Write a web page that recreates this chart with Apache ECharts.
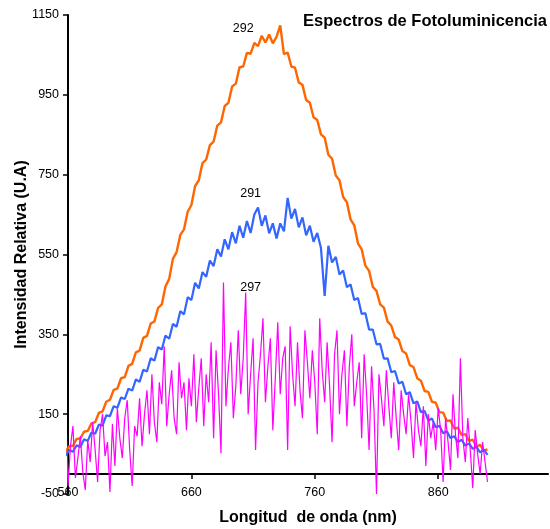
<!DOCTYPE html>
<html>
<head>
<meta charset="utf-8">
<script src="https://cdn.jsdelivr.net/npm/echarts@6/dist/echarts.min.js"></script>
<style>
  html, body { margin: 0; padding: 0; background: #fff; }
  #chart { width: 550px; height: 529px; }
</style>
</head>
<body>
<div id="chart"></div>
<script>
// longitud de onda (nm), paso 3 nm para 292 y 291
var longitud = [558,561,564,567,570,573,576,579,582,585,588,591,594,597,600,603,606,609,612,615,
  618,621,624,627,630,633,636,639,642,645,648,651,654,657,660,663,666,669,672,675,
  678,681,684,687,690,693,696,699,702,705,708,711,714,717,720,723,726,729,732,735,
  738,741,744,747,750,753,756,759,762,765,768,771,774,777,780,783,786,789,792,795,
  798,801,804,807,810,813,816,819,822,825,828,831,834,837,840,843,846,849,852,855,
  858,861,864,867,870,873,876,879,882,885,888,891,894,897,900];

// longitud de onda (nm), paso 2 nm para 297
var longitud2 = [558,560,562,564,566,568,570,572,574,576,578,580,582,584,586,588,590,592,594,596,
  598,600,602,604,606,608,610,612,614,616,618,620,622,624,626,628,630,632,634,636,
  638,640,642,644,646,648,650,652,654,656,658,660,662,664,666,668,670,672,674,676,
  678,680,682,684,686,688,690,692,694,696,698,700,702,704,706,708,710,712,714,716,
  718,720,722,724,726,728,730,732,734,736,738,740,742,744,746,748,750,752,754,756,
  758,760,762,764,766,768,770,772,774,776,778,780,782,784,786,788,790,792,794,796,
  798,800,802,804,806,808,810,812,814,816,818,820,822,824,826,828,830,832,834,836,
  838,840,842,844,846,848,850,852,854,856,858,860,862,864,866,868,870,872,874,876,
  878,880,882,884,886,888,890,892,894,896,898,900];

// muestra 292
var m292 = [55,70,71,88,89,106,108,127,130,153,
  157,181,186,211,214,240,243,271,276,305,
  309,341,346,377,382,416,425,470,489,539,
  556,599,613,657,674,721,736,779,788,824,
  833,873,881,922,930,971,978,1019,1021,1055,
  1053,1080,1072,1098,1081,1101,1079,1095,1124,1052,
  1056,1021,1018,981,975,937,930,894,887,851,
  843,800,790,748,736,694,681,638,623,578,
  563,522,509,469,459,425,417,382,372,343,
  337,308,302,273,268,240,234,208,206,181,
  179,155,154,133,134,114,116,98,100,83,
  86,69,73,59,62];

// muestra 291
var m291 = [46,60,56,72,68,87,83,104,101,124,
  121,147,145,170,166,192,188,214,209,237,
  231,261,257,290,284,318,312,347,339,376,
  369,408,400,443,436,479,465,506,494,535,
  521,563,545,588,563,606,578,622,592,634,
  604,650,668,622,648,603,628,590,628,608,
  692,640,664,618,643,598,622,582,604,566,
  446,572,530,544,500,510,468,475,436,441,
  401,403,362,362,325,326,289,290,255,258,
  227,231,200,205,177,182,155,158,134,139,
  117,121,102,107,90,95,80,86,71,77,
  63,68,54,61,48];

// muestra 297
var m297 = [180,-30,70,120,-10,40,95,5,-40,85,
  30,130,60,-20,110,150,45,80,-45,125,
  20,165,90,40,140,185,60,-30,120,95,
  190,70,150,210,100,250,130,80,230,175,
  320,120,200,260,140,100,280,190,230,110,
  240,170,300,130,215,290,120,250,180,330,
  90,310,200,52,480,170,265,330,140,220,
  360,200,290,455,150,250,340,60,230,300,
  390,180,270,340,110,240,380,200,290,320,
  60,370,250,170,330,210,140,360,280,190,
  310,230,100,390,260,180,330,220,80,300,
  360,150,250,310,120,270,350,170,230,280,
  90,300,200,60,270,160,-50,250,190,120,
  260,170,90,230,140,60,210,150,100,200,
  130,40,180,110,70,170,20,150,90,130,
  60,165,110,-20,140,80,10,200,100,40,
  290,90,30,140,60,-35,110,50,0,80,
  30,-20];

var xTicks = [560, 660, 760, 860];

// etiquetas de cada curva [nombre, x, y]
var etiquetas = [['292', 702, 1115], ['291', 708, 702], ['297', 708, 467]];

function pares(xs, vals) {
    var out = [];
    for (var i = 0; i < xs.length; i++) {
        out.push([xs[i], vals[i]]);
    }
    return out;
}

function marca(idx) {
    return {
        symbol: 'circle',
        symbolSize: 0,
        silent: true,
        label: {
            show: true,
            position: 'inside',
            color: '#000',
            fontSize: 12.5,
            fontFamily: 'Liberation Sans',
            formatter: etiquetas[idx][0]
        },
        data: [{ coord: [etiquetas[idx][1], etiquetas[idx][2]] }]
    };
}

var myChart = echarts.init(document.getElementById('chart'));
var option = {
    animation: false,
    backgroundColor: '#fff',
    textStyle: { fontFamily: 'Liberation Sans' },
    title: {
        text: 'Espectros de Fotoluminicencia',
        right: 3,
        top: 13,
        padding: 0,
        textStyle: { fontSize: 16.5, fontWeight: 'bold', color: '#000', fontFamily: 'Liberation Sans' }
    },
    grid: { left: 68, right: 2, top: 15, bottom: 35, outerBoundsMode: 'none', containLabel: false },
    xAxis: {
        type: 'value',
        min: 560,
        max: 949,
        interval: 100,
        name: 'Longitud  de onda (nm)',
        nameLocation: 'middle',
        nameGap: 16,
        nameMoveOverlap: false,
        nameTextStyle: { fontSize: 16, fontWeight: 'bold', color: '#000' },
        axisLine: { onZero: true, lineStyle: { color: '#000', width: 2 } },
        axisTick: { show: true, length: 5, inside: false, customValues: xTicks, lineStyle: { color: '#000', width: 1.5 } },
        axisLabel: { margin: -8, fontSize: 12.5, color: '#000', customValues: xTicks },
        splitLine: { show: false }
    },
    yAxis: {
        type: 'value',
        min: -50,
        max: 1150,
        interval: 200,
        name: 'Intensidad Relativa (U.A)',
        nameLocation: 'middle',
        nameGap: 38,
        nameMoveOverlap: false,
        nameTextStyle: { fontSize: 16, fontWeight: 'bold', color: '#000' },
        axisLine: { show: true, lineStyle: { color: '#000', width: 2 } },
        axisTick: { show: true, length: 5, lineStyle: { color: '#000', width: 1.5 } },
        axisLabel: {
            margin: 9,
            fontSize: 12.5,
            color: '#000',
            formatter: function (v) { return String(v); }
        },
        splitLine: { show: false }
    },
    series: [{
        name: '292',
        type: 'line',
        data: pares(longitud, m292),
        showSymbol: false,
        clip: false,
        lineStyle: { color: '#FF6600', width: 2.4 },
        itemStyle: { color: '#FF6600' },
        markPoint: marca(0)
    }, {
        name: '291',
        type: 'line',
        data: pares(longitud, m291),
        showSymbol: false,
        clip: false,
        lineStyle: { color: '#3366FF', width: 2.2 },
        itemStyle: { color: '#3366FF' },
        markPoint: marca(1)
    }, {
        name: '297',
        type: 'line',
        data: pares(longitud2, m297),
        showSymbol: false,
        clip: false,
        lineStyle: { color: '#FF00FF', width: 1.2 },
        itemStyle: { color: '#FF00FF' },
        markPoint: marca(2)
    }]
};
myChart.setOption(option);
</script>
</body>
</html>
